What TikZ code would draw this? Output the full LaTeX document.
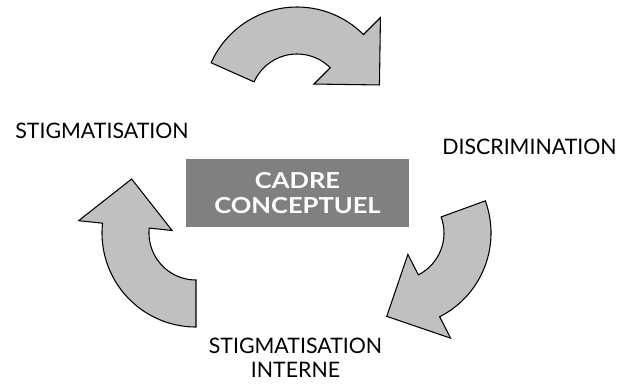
\documentclass[tikz,border=0pt]{standalone}
\usepackage{fontspec}
\setmainfont{Lato}
\newfontfamily\boxfont{Lato}[FakeStretch=1.16]
\usetikzlibrary{calc, positioning}
\definecolor{ArrowGrey}{HTML}{C0C0C0}
\definecolor{BoxGrey}{HTML}{808080}
\tikzset{
  cyclearrow/.style={draw=black, fill=ArrowGrey, line width=0.8pt, line join=miter},
  cyclelabel/.style={font=\fontsize{16}{17.5}\selectfont, align=center, inner sep=0pt},
  centrebox/.style={fill=BoxGrey, text=white, font=\boxfont\fontsize{16.5}{18.75}\selectfont\bfseries,
    align=center, minimum width=167.25pt, minimum height=51pt, inner sep=0pt}
}
% curved block arrow: centre, start angle, end angle
\newcommand{\cyclearc}[3]{%
  \draw[cyclearrow] ($(#1)+(#2:94)$) arc[start angle=#2, end angle=#3, radius=94]
    -- ($(#1)+(#3:118)$) -- ($(#1)+(#3-34:84)$) -- ($(#1)+(#3:24)$) -- ($(#1)+(#3:47)$)
    arc[start angle=#3, end angle=#2, radius=47] -- cycle;}

\begin{document}
\begin{tikzpicture}[x=0.75pt, y=0.75pt]
  \useasboundingbox (0,0) rectangle (621,-385);

  % Centres of the three arrows
  \coordinate (ctop) at (297,-101);
  \coordinate (cleft) at (196,-233);
  \coordinate (cright) at (397,-233);

  % Arrows of the cycle
  \cyclearc{ctop}{156}{45}
  \cyclearc{cright}{20}{-63}
  \cyclearc{cleft}{270}{174}

  % Central box
  \node[centrebox] (cadre) at (297.5,-193) {CADRE\\CONCEPTUEL};

  % Labels
  \node[cyclelabel] (stigma) at (102,-130.5) {STIGMATISATION};
  \node[cyclelabel] (discri) at (529.5,-147) {DISCRIMINATION};
  \node[cyclelabel, anchor=north] (interne) at (295.5,-338) {STIGMATISATION\\INTERNE};
\end{tikzpicture}
\end{document}
